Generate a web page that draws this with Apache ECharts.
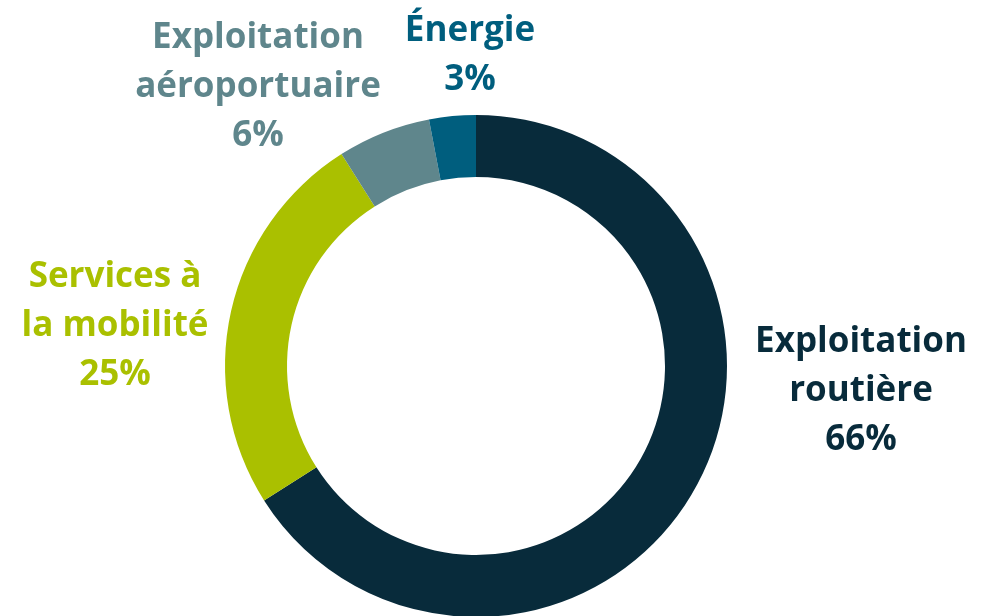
<!DOCTYPE html>
<html>
<head>
<meta charset="utf-8">
<script src="https://cdn.jsdelivr.net/npm/echarts@6/dist/echarts.min.js"></script>
<style>
  html, body { margin: 0; padding: 0; background: #ffffff; }
  #chart { width: 984px; height: 616px; }
</style>
</head>
<body>
<div id="chart"></div>
<script>
// activity split, clockwise from the top
const names = ['Exploitation\nroutière', 'Services à\nla mobilité', 'Exploitation\naéroportuaire', 'Énergie'];
const shares = [66, 25, 6, 3];
const colors = ['#082b3b', '#aac000', '#5f868c', '#005e7e'];

// where each label block is centred (px)
const labelPos = [[861, 391], [115, 326], [258, 87], [470, 56]];

const chart = echarts.init(document.getElementById('chart'), null, { renderer: 'canvas' });

const option = {
  backgroundColor: '#ffffff',
  animation: false,
  series: [{
    type: 'pie',
    center: [476, 366],
    radius: [189, 251],
    startAngle: 90,
    clockwise: true,
    avoidLabelOverlap: false,
    data: names.map((n, i) => ({
      name: n,
      value: shares[i],
      itemStyle: { color: colors[i] },
      label: { color: colors[i] }
    })),
    label: {
      show: true,
      position: 'outside',
      formatter: p => p.name + '\n' + p.value + '%',
      fontFamily: 'Open Sans',
      fontWeight: 'bold',
      fontSize: 35,
      lineHeight: 49,
      align: 'center'
    },
    labelLine: { show: false },
    labelLayout: params => ({
      x: labelPos[params.dataIndex][0],
      y: labelPos[params.dataIndex][1],
      align: 'center',
      verticalAlign: 'middle'
    }),
    emphasis: { disabled: true }
  }]
};

chart.setOption(option);
</script>
</body>
</html>
